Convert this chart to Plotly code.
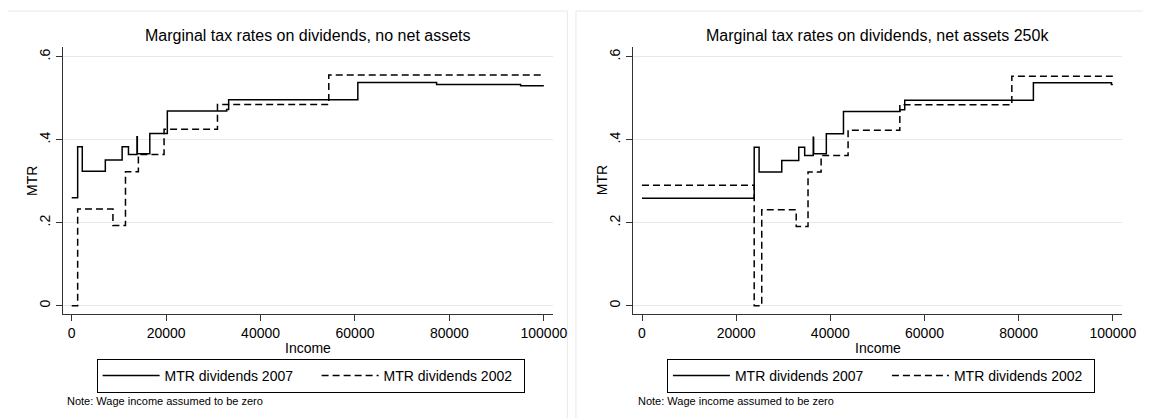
import plotly.graph_objects as go

# ---------------- data ----------------
# Left panel: no net assets
inc_l07 = [0, 1260, 2240, 7120, 10680, 12020, 13820, 13900, 16540, 20250, 32820, 33240, 60600, 77280, 95080, 100000]
mtr_l07 = [0.26, 0.383, 0.324, 0.351, 0.383, 0.364, 0.407, 0.366, 0.415, 0.469, 0.473, 0.496, 0.538, 0.533, 0.530, 0.530]
inc_l02 = [0, 1260, 8730, 11390, 14120, 19560, 30870, 54450, 100000]
mtr_l02 = [0.0, 0.233, 0.193, 0.323, 0.364, 0.425, 0.485, 0.556, 0.556]

# Right panel: net assets 250k
inc_r07 = [0, 23830, 24870, 29680, 33290, 34550, 36370, 36450, 39150, 42790, 54760, 55800, 83130, 99700, 100000]
mtr_r07 = [0.259, 0.382, 0.322, 0.350, 0.382, 0.362, 0.406, 0.366, 0.414, 0.468, 0.472, 0.495, 0.537, 0.533, 0.533]
inc_r02 = [0, 23830, 25430, 32750, 35260, 38040, 43770, 54760, 78550, 100000]
mtr_r02 = [0.29, 0.0, 0.231, 0.191, 0.322, 0.362, 0.423, 0.484, 0.553, 0.553]

titles = ["Marginal tax rates on dividends, no net assets",
          "Marginal tax rates on dividends, net assets 250k"]
series_names = ["MTR dividends 2007", "MTR dividends 2002"]
x_ticks = [0, 20000, 40000, 60000, 80000, 100000]
x_ticktext = ["0", "20000", "40000", "60000", "80000", "100000"]
y_ticks = [0, 0.2, 0.4, 0.6]
y_ticktext = ["0", ".2", ".4", ".6"]
note_text = "Note: Wage income assumed to be zero"

# ---------------- figure ----------------
OFF = 8  # page body margin
W, H = 1151 - OFF, 418 - OFF
FONT = "Liberation Sans, Arial, Helvetica, sans-serif"

def px(x):
    return (x - OFF) / W

def py(y):
    return (H - (y - OFF)) / H

fig = go.Figure()

solid = dict(color="black", width=1.5)
dashed = dict(color="black", width=1.5, dash="7px,4px")

LW1, LW2 = 147, 135

fig.add_trace(go.Scatter(x=inc_l07, y=mtr_l07, mode="lines", line=solid, line_shape="hv",
                         name=series_names[0], xaxis="x", yaxis="y", legend="legend", legendwidth=LW1))
fig.add_trace(go.Scatter(x=inc_l02, y=mtr_l02, mode="lines", line=dashed, line_shape="hv",
                         name=series_names[1], xaxis="x", yaxis="y", legend="legend", legendwidth=LW2))
fig.add_trace(go.Scatter(x=inc_r07, y=mtr_r07, mode="lines", line=solid, line_shape="hv",
                         name=series_names[0], xaxis="x2", yaxis="y2", legend="legend2", legendwidth=LW1))
fig.add_trace(go.Scatter(x=inc_r02, y=mtr_r02, mode="lines", line=dashed, line_shape="hv",
                         name=series_names[1], xaxis="x2", yaxis="y2", legend="legend2", legendwidth=LW2))

# plot area pixel bounds (page coordinates)
L_x0, L_x1 = 63.3, 560.0
R_x0, R_x1 = 640.7, 1136.0
Y_top, Y_bot = 46.7, 314.3

xcommon = dict(range=[-1925, 101990], tickvals=x_ticks, ticktext=x_ticktext,
               showline=True, linecolor="#333333", linewidth=1,
               ticks="outside", ticklen=6, tickcolor="#333333", tickwidth=1,
               showgrid=False, zeroline=False,
               tickfont=dict(family=FONT, size=14, color="black"))
ycommon = dict(range=[-0.0207, 0.624], tickvals=y_ticks, ticktext=y_ticktext,
               tickangle=-90,
               showline=True, linecolor="#333333", linewidth=1,
               ticks="outside", ticklen=6, tickcolor="#333333", tickwidth=1,
               showgrid=True, gridcolor="#e8e8e8", gridwidth=1.2, zeroline=False,
               tickfont=dict(family=FONT, size=14, color="black"),
               domain=[py(Y_bot), py(Y_top)])

legend_common = dict(orientation="h", xanchor="left", y=py(358.8), yanchor="top",
                     bordercolor="black", borderwidth=1, bgcolor="white",
                     itemwidth=57, font=dict(family=FONT, size=14, color="black"),
                     traceorder="normal")

fig.update_layout(
    width=W, height=H,
    margin=dict(l=0, r=0, t=0, b=0),
    paper_bgcolor="white", plot_bgcolor="white",
    font=dict(family=FONT, size=14, color="black"),
    xaxis=dict(domain=[px(L_x0), px(L_x1)], anchor="y", **xcommon),
    yaxis=dict(anchor="x", **ycommon),
    xaxis2=dict(domain=[px(R_x0), px(R_x1)], anchor="y2", **xcommon),
    yaxis2=dict(anchor="x2", **ycommon),
    legend=dict(x=px(97.7), **legend_common),
    legend2=dict(x=px(675.1), **legend_common),
)

# panel outlines
fig.add_shape(type="rect", xref="paper", yref="paper", x0=px(7.5), x1=px(574.3), y0=-0.01, y1=py(11),
              line=dict(color="#e8e8e8", width=1), fillcolor="rgba(0,0,0,0)", layer="below")
fig.add_shape(type="rect", xref="paper", yref="paper", x0=px(583), x1=1.01, y0=-0.01, y1=py(11),
              line=dict(color="#e8e8e8", width=1), fillcolor="rgba(0,0,0,0)", layer="below")

for cx, x0, title in [((L_x0 + L_x1) / 2, L_x0, titles[0]), ((R_x0 + R_x1) / 2, R_x0, titles[1])]:
    fig.add_annotation(text=title, xref="paper", yref="paper", x=px(cx), y=py(35.7),
                       xanchor="center", yanchor="middle", showarrow=False,
                       font=dict(family=FONT, size=16, color="black"))
    fig.add_annotation(text="Income", xref="paper", yref="paper", x=px(cx), y=py(347.5),
                       xanchor="center", yanchor="middle", showarrow=False,
                       font=dict(family=FONT, size=14, color="black"))
    fig.add_annotation(text="MTR", xref="paper", yref="paper", x=px(x0 - 31.6), y=py((Y_top + Y_bot) / 2),
                       xanchor="center", yanchor="middle", showarrow=False, textangle=-90,
                       font=dict(family=FONT, size=14, color="black"))
    fig.add_annotation(text=note_text, xref="paper", yref="paper", x=px(x0 + 2.7), y=py(401),
                       xanchor="left", yanchor="middle", showarrow=False,
                       font=dict(family=FONT, size=11, color="black"))

fig.write_html("out.html", config={"displayModeBar": False})
